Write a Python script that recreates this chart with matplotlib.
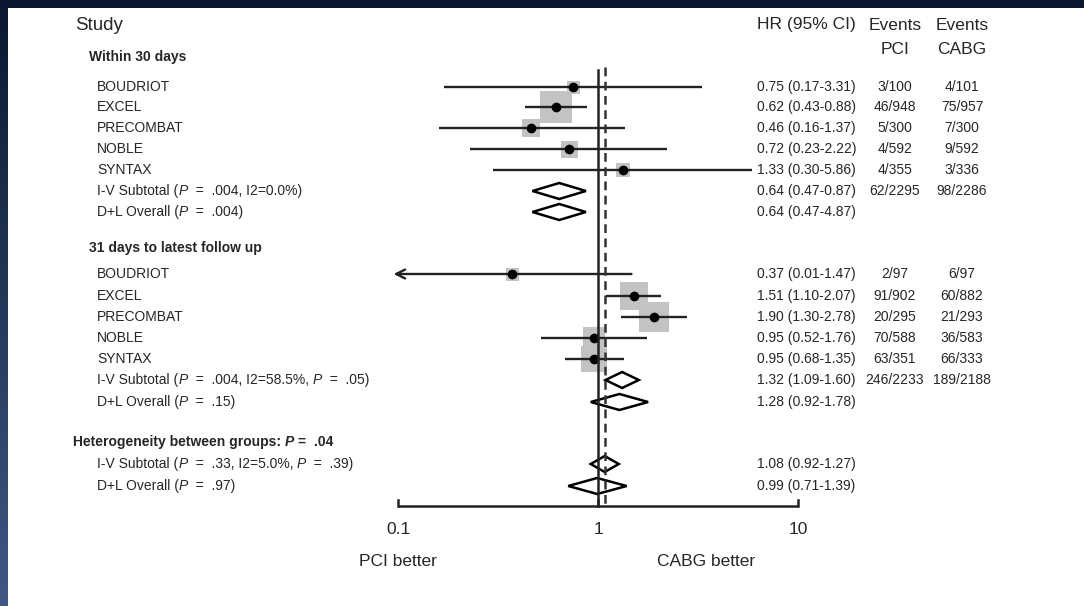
import numpy as np
import matplotlib
matplotlib.use("Agg")
import matplotlib.pyplot as plt

# ---------------- data ----------------
studies = ["BOUDRIOT", "EXCEL", "PRECOMBAT", "NOBLE", "SYNTAX"]

g1_hr = [0.75, 0.62, 0.46, 0.72, 1.33]
g1_lo = [0.17, 0.43, 0.16, 0.23, 0.30]
g1_hi = [3.31, 0.88, 1.37, 2.22, 5.86]
g1_pci = ["3/100", "46/948", "5/300", "4/592", "4/355"]
g1_cabg = ["4/101", "75/957", "7/300", "9/592", "3/336"]
g1_box = [13, 32, 18, 17, 14]          # visual box side (px)

g2_hr = [0.37, 1.51, 1.90, 0.95, 0.95]
g2_lo = [0.01, 1.10, 1.30, 0.52, 0.68]
g2_hi = [1.47, 2.07, 2.78, 1.76, 1.35]
g2_pci = ["2/97", "91/902", "20/295", "70/588", "63/351"]
g2_cabg = ["6/97", "60/882", "21/293", "36/583", "66/333"]
g2_box = [13, 28, 30, 23, 27]

# pooled: (est, lo, hi) drawn, and printed labels
g1_pool = [(0.64, 0.47, 0.87), (0.64, 0.47, 0.87)]
g1_pool_lab = ["0.64 (0.47-0.87)", "0.64 (0.47-4.87)"]
g1_pool_pci = ["62/2295", ""]
g1_pool_cabg = ["98/2286", ""]

g2_pool = [(1.32, 1.09, 1.60), (1.28, 0.92, 1.78)]
g2_pool_lab = ["1.32 (1.09-1.60)", "1.28 (0.92-1.78)"]
g2_pool_pci = ["246/2233", ""]
g2_pool_cabg = ["189/2188", ""]

ov_pool = [(1.08, 0.92, 1.27), (0.99, 0.71, 1.39)]
ov_pool_lab = ["1.08 (0.92-1.27)", "0.99 (0.71-1.39)"]

overall_iv_hr = 1.08
x_ticks = [0.1, 1, 10]
x_tick_labels = ["0.1", "1", "10"]

# ---------------- figure ----------------
W, H = 1084, 606
fig = plt.figure(figsize=(W / 100, H / 100), dpi=100, facecolor="white")
plt.rcParams["font.family"] = ["Liberation Sans", "DejaVu Sans"]

bg = fig.add_axes([0, 0, 1, 1])
bg.set_xlim(0, W)
bg.set_ylim(H, 0)
bg.axis("off")

# dark frame (top band + gradient left band)
top_c = np.array([10, 24, 48]) / 255
bot_c = np.array([64, 88, 132]) / 255
t = np.linspace(0, 1, 200)[:, None]
grad = (top_c[None, :] * (1 - t) + bot_c[None, :] * t)[:, None, :]
bg.imshow(grad, extent=[0, 8, H, 0], aspect="auto", zorder=0)
bg.add_patch(plt.Rectangle((0, 0), W, 8, color=top_c, lw=0, zorder=1))
bg.set_xlim(0, W)
bg.set_ylim(H, 0)

ax = fig.add_axes([0, 0, 1, 1])
ax.set_xscale("log")
ax.set_xlim(10 ** (-598 / 200), 10 ** ((W - 598) / 200))
ax.set_ylim(H, 0)
ax.axis("off")
ax.patch.set_alpha(0)

renderer = fig.canvas.get_renderer()
TXT = "#262626"


def rich(x, y, parts, size=10, bold=False):
    for s, ital in parts:
        tt = bg.text(x, y, s, fontsize=size, color=TXT, va="center", ha="left",
                     fontweight="bold" if bold else "normal",
                     fontstyle="italic" if ital else "normal")
        bb = tt.get_window_extent(renderer)
        x += bb.width


# layout rows (pixel y)
g1_y = [87, 107, 128, 149, 170, 191, 212]
g2_y = [274, 296, 317, 338, 359, 380, 402]
ov_y = [464, 486]

x_name = 97
x_hr = 757
x_pci = 895
x_cabg = 962

# headers
bg.text(75, 25, "Study", fontsize=13.5, color=TXT, va="center")
bg.text(x_hr, 25, "HR (95% CI)", fontsize=12.5, color=TXT, va="center")
bg.text(x_pci, 25, "Events", fontsize=12.5, color=TXT, va="center", ha="center")
bg.text(x_cabg, 25, "Events", fontsize=12.5, color=TXT, va="center", ha="center")
bg.text(x_pci, 49, "PCI", fontsize=12.5, color=TXT, va="center", ha="center")
bg.text(x_cabg, 49, "CABG", fontsize=12.5, color=TXT, va="center", ha="center")

bg.text(89, 57, "Within 30 days", fontsize=10, color=TXT, va="center", fontweight="bold")
bg.text(89, 248, "31 days to latest follow up", fontsize=10, color=TXT, va="center", fontweight="bold")
rich(73, 442, [("Heterogeneity between groups: ", False), ("P", True), (" =  .04", False)], bold=True)

g1_pool_names = [[("I-V Subtotal (", False), ("P", True), ("  =  .004, I2=0.0%)", False)],
                 [("D+L Overall (", False), ("P", True), ("  =  .004)", False)]]
g2_pool_names = [[("I-V Subtotal (", False), ("P", True), ("  =  .004, I2=58.5%, ", False), ("P", True), ("  =  .05)", False)],
                 [("D+L Overall (", False), ("P", True), ("  =  .15)", False)]]
ov_pool_names = [[("I-V Subtotal (", False), ("P", True), ("  =  .33, I2=5.0%, ", False), ("P", True), ("  =  .39)", False)],
                 [("D+L Overall (", False), ("P", True), ("  =  .97)", False)]]


def fmt(h, l, u):
    return f"{h:.2f} ({l:.2f}-{u:.2f})"


def draw_group(ys, hr, lo, hi, pci, cabg, box, pool, pool_lab, pool_pci, pool_cabg, pool_names):
    xmin = 0.1
    for i, name in enumerate(studies):
        y = ys[i]
        bg.text(x_name, y, name, fontsize=10, color=TXT, va="center")
        bg.text(x_hr, y, fmt(hr[i], lo[i], hi[i]), fontsize=10, color=TXT, va="center")
        bg.text(x_pci, y, pci[i], fontsize=10, color=TXT, va="center", ha="center")
        bg.text(x_cabg, y, cabg[i], fontsize=10, color=TXT, va="center", ha="center")
        ax.plot([hr[i]], [y], marker="s", ms=box[i] * 0.72, color="#c3c3c3", mew=0, zorder=2)
        if lo[i] < xmin:
            ax.annotate("", xy=(xmin * 0.95, y), xytext=(hi[i], y),
                        arrowprops=dict(arrowstyle="->", lw=1.7, color="#222222",
                                        mutation_scale=16, shrinkA=0, shrinkB=0), zorder=3)
        else:
            ax.plot([lo[i], hi[i]], [y, y], color="#222222", lw=1.7, zorder=3, solid_capstyle="butt")
        ax.plot([hr[i]], [y], marker="o", ms=7, color="black", mew=0, zorder=4)
    for j in range(len(pool)):
        y = ys[len(studies) + j]
        e, l, u = pool[j]
        ax.fill([l, e, u, e], [y, y - 8, y, y + 8], facecolor="white", edgecolor="black",
                lw=1.8, zorder=5)
        rich(x_name, y, pool_names[j])
        bg.text(x_hr, y, pool_lab[j], fontsize=10, color=TXT, va="center")
        bg.text(x_pci, y, pool_pci[j], fontsize=10, color=TXT, va="center", ha="center")
        bg.text(x_cabg, y, pool_cabg[j], fontsize=10, color=TXT, va="center", ha="center")


draw_group(g1_y, g1_hr, g1_lo, g1_hi, g1_pci, g1_cabg, g1_box, g1_pool, g1_pool_lab,
           g1_pool_pci, g1_pool_cabg, g1_pool_names)
draw_group(g2_y, g2_hr, g2_lo, g2_hi, g2_pci, g2_cabg, g2_box, g2_pool, g2_pool_lab,
           g2_pool_pci, g2_pool_cabg, g2_pool_names)

for j in range(len(ov_pool)):
    y = ov_y[j]
    e, l, u = ov_pool[j]
    ax.fill([l, e, u, e], [y, y - 8, y, y + 8], facecolor="white", edgecolor="black", lw=1.8, zorder=5)
    rich(x_name, y, ov_pool_names[j])
    bg.text(x_hr, y, ov_pool_lab[j], fontsize=10, color=TXT, va="center")

# reference lines
y_axis = 506
ax.plot([1, 1], [70, y_axis], color="#222222", lw=1.8, zorder=6)
ax.plot([overall_iv_hr, overall_iv_hr], [67, y_axis - 1], color="#333333", lw=1.8,
        ls=(0, (3.5, 2.2)), zorder=6)

# x axis
ax.plot([x_ticks[0], x_ticks[-1]], [y_axis, y_axis], color="#222222", lw=1.8, zorder=6,
        solid_capstyle="butt")
for xt, lab in zip(x_ticks, x_tick_labels):
    ax.plot([xt, xt], [y_axis - 6, y_axis], color="#222222", lw=1.8, zorder=6)
    ax.text(xt, 530, lab, fontsize=12.5, color=TXT, ha="center", va="center")

ax.text(x_ticks[0], 562, "PCI better", fontsize=12.5, color=TXT, ha="center", va="center")
ax.text(3.45, 562, "CABG better", fontsize=12.5, color=TXT, ha="center", va="center")

fig.savefig("out.png", dpi=100, facecolor="white")
